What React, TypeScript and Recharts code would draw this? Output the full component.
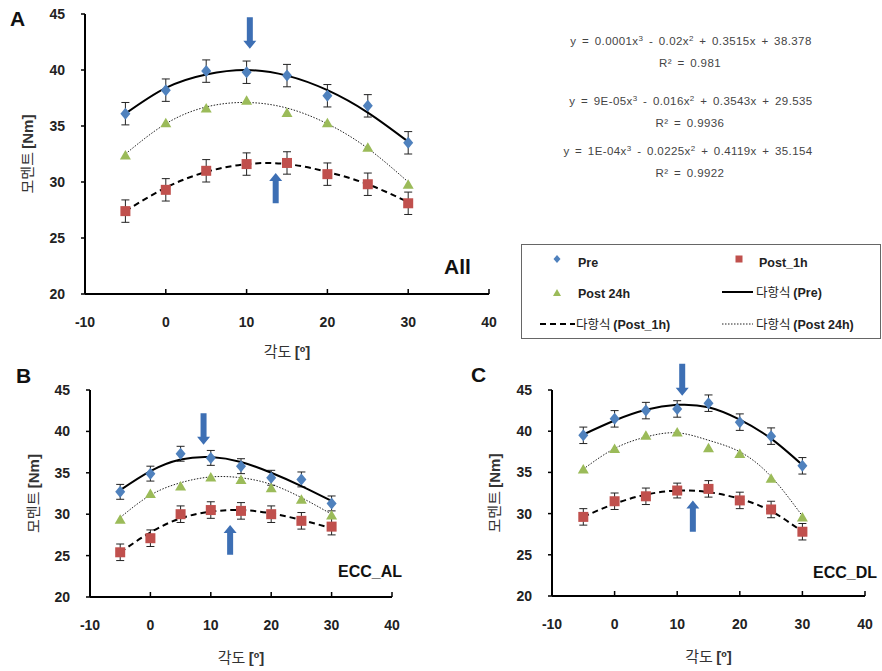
import React from 'react'
import { ComposedChart, Line, XAxis, YAxis, ErrorBar, ReferenceLine, Label } from 'recharts'

const angles = [-5, 0, 5, 10, 15, 20, 25, 30]
const xTicks = [-10, 0, 10, 20, 30, 40]
const yTicks = [20, 25, 30, 35, 40, 45]

// A: All
const preA = [36.1, 38.2, 39.9, 39.8, 39.5, 37.7, 36.8, 33.5]
const preErrA = [1.0, 1.0, 1.0, 1.0, 1.0, 1.0, 1.0, 1.0]
const post1A = [27.4, 29.3, 31.0, 31.6, 31.7, 30.7, 29.8, 28.1]
const post1ErrA = [1.0, 1.0, 1.0, 1.0, 1.0, 1.0, 1.0, 1.0]
const post24A = [32.4, 35.3, 36.6, 37.3, 36.2, 35.3, 33.1, 29.8]
const preFitA = [36.1, 38.4, 39.6, 40.0, 39.5, 38.2, 36.2, 33.6]
const post1FitA = [27.4, 29.5, 30.9, 31.6, 31.6, 30.9, 29.8, 28.2]
const post24FitA = [32.5, 35.2, 36.7, 37.1, 36.6, 35.2, 33.0, 30.0]

// B: ECC_AL
const preB = [32.7, 34.9, 37.3, 36.8, 35.8, 34.4, 34.2, 31.3]
const preErrB = [0.9, 0.9, 0.9, 0.9, 0.9, 0.9, 0.9, 0.9]
const post1B = [25.4, 27.1, 30.0, 30.5, 30.4, 30.0, 29.2, 28.5]
const post1ErrB = [1.0, 1.0, 1.0, 1.0, 1.0, 1.0, 1.0, 1.0]
const post24B = [29.4, 32.5, 33.4, 34.5, 34.2, 33.2, 31.8, 29.9]
const preFitB = [32.9, 35.2, 36.6, 36.9, 36.3, 35.0, 33.4, 31.6]
const post1FitB = [25.4, 27.8, 29.5, 30.3, 30.5, 30.1, 29.3, 28.3]
const post24FitB = [29.6, 32.3, 33.8, 34.5, 34.4, 33.6, 32.0, 30.0]

// C: ECC_DL
const preC = [39.5, 41.5, 42.5, 42.7, 43.4, 41.1, 39.4, 35.8]
const preErrC = [1.0, 1.0, 1.0, 1.0, 1.0, 1.0, 1.0, 1.0]
const post1C = [29.6, 31.5, 32.1, 32.8, 33.0, 31.6, 30.5, 27.8]
const post1ErrC = [1.0, 1.0, 1.0, 0.9, 1.0, 1.0, 1.0, 1.0]
const post24C = [35.4, 37.9, 39.5, 39.9, 38.0, 37.3, 34.3, 29.6]
const preFitC = [39.6, 41.3, 42.6, 43.2, 42.9, 41.4, 39.1, 35.9]
const post1FitC = [29.6, 31.2, 32.3, 32.8, 32.6, 31.8, 30.3, 27.8]
const post24FitC = [35.4, 37.9, 39.3, 39.8, 38.9, 37.5, 34.5, 29.7]

// arrows: x, tail, tip
const arrowsA = [{ x: 10.4, from: 44.7, to: 41.9 }, { x: 13.6, from: 28.1, to: 30.8 }]
const arrowsB = [{ x: 8.8, from: 42.2, to: 38.4 }, { x: 13.2, from: 25.1, to: 28.7 }]
const arrowsC = [{ x: 10.8, from: 48.2, to: 44.3 }, { x: 12.5, from: 27.8, to: 31.6 }]

const FONT = '"Liberation Sans", Arial, "Noto Sans CJK KR", sans-serif'
const KR = '"Noto Sans CJK KR", "Liberation Sans", sans-serif'
const BLUE = '#4f81bd'
const RED = '#c0504d'
const GREEN = '#9bbb59'
const ARROW = '#3d6fb4'

const rows = (pre: number[], preErr: number[], post1: number[], post1Err: number[], post24: number[],
  preFit: number[], post1Fit: number[], post24Fit: number[]) =>
  angles.map((x, i) => ({
    x, pre: pre[i], preErr: preErr[i], post1: post1[i], post1Err: post1Err[i], post24: post24[i],
    preFit: preFit[i], post1Fit: post1Fit[i], post24Fit: post24Fit[i],
  }))

const diamond = (p: any) => (
  <path key={`d${p.index}`} d={`M${p.cx},${p.cy - 6}L${p.cx + 5},${p.cy}L${p.cx},${p.cy + 6}L${p.cx - 5},${p.cy}Z`} fill={BLUE} />
)
const square = (p: any) => (
  <rect key={`s${p.index}`} x={p.cx - 5} y={p.cy - 5} width={10} height={10} fill={RED} />
)
const triangle = (p: any) => (
  <path key={`t${p.index}`} d={`M${p.cx},${p.cy - 5}L${p.cx + 5.5},${p.cy + 4.5}L${p.cx - 5.5},${p.cy + 4.5}Z`} fill={GREEN} />
)

const Arrow = (p: any) => {
  const { x1, y1, x2, y2 } = p
  const dir = y2 > y1 ? 1 : -1
  const hy = y2 - dir * 8
  return (
    <path
      d={`M${x1 - 3},${y1}L${x1 + 3},${y1}L${x1 + 3},${hy}L${x1 + 6.5},${hy}L${x2},${y2}L${x1 - 6.5},${hy}L${x1 - 3},${hy}Z`}
      fill={ARROW}
    />
  )
}

const XTick = (p: any) => {
  const { x, y, payload } = p
  return (
    <g>
      <line x1={x} y1={y} x2={x} y2={y - 5} stroke="#000" strokeWidth={1.5} />
      <text x={x} y={y + 33} textAnchor="middle" fontSize={14} fontWeight="bold" fill="#222" fontFamily={FONT}>
        {payload.value}
      </text>
    </g>
  )
}

const xLabel = (dy: number) => (p: any) => {
  const vb = p.viewBox || { x: 0, y: 0, width: 0, height: 0 }
  return (
    <text x={vb.x + vb.width / 2} y={vb.y + dy} textAnchor="middle" fontSize={15} fill="#333">
      <tspan fontFamily={KR}>각도 </tspan>
      <tspan fontFamily={FONT} fontWeight="bold">[º]</tspan>
    </text>
  )
}

const yLabel = (cx: number) => (p: any) => {
  const vb = p.viewBox || { x: 0, y: 0, width: 0, height: 0 }
  const cy = vb.y + vb.height / 2
  return (
    <text x={cx} y={cy} transform={`rotate(-90, ${cx}, ${cy})`} dy={5} textAnchor="middle" fontSize={15} fill="#333">
      <tspan fontFamily={KR}>모멘트 </tspan>
      <tspan fontFamily={FONT} fontWeight="bold">[Nm]</tspan>
    </text>
  )
}

type PanelProps = {
  data: ReturnType<typeof rows>
  arrows: { x: number; from: number; to: number }[]
  width: number
  height: number
  margin: { top: number; right: number; bottom: number; left: number }
  yWidth: number
  xHeight: number
  xLabelDy: number
  yLabelX: number
}

const Panel = ({ data, arrows, width, height, margin, yWidth, xHeight, xLabelDy, yLabelX }: PanelProps) => (
  <ComposedChart width={width} height={height} data={data} margin={margin}>
    <XAxis
      dataKey="x" type="number" domain={[-10, 40]} ticks={xTicks}
      axisLine={{ stroke: '#000', strokeWidth: 2 }} tickLine={false} tickSize={0} tickMargin={0}
      height={xHeight} tick={<XTick />}
    >
      <Label content={xLabel(xLabelDy)} />
    </XAxis>
    <YAxis
      type="number" domain={[20, 45]} ticks={yTicks} width={yWidth}
      axisLine={{ stroke: '#000', strokeWidth: 2 }} tickLine={{ stroke: '#000', strokeWidth: 1.5 }}
      tickSize={4} tickMargin={16}
      tick={{ fontSize: 14, fontWeight: 'bold', fill: '#222', fontFamily: FONT }}
    >
      <Label content={yLabel(yLabelX)} />
    </YAxis>
    <Line dataKey="pre" stroke="none" dot={diamond} activeDot={false} isAnimationActive={false}>
      <ErrorBar dataKey="preErr" width={4} stroke="#222" strokeWidth={1} direction="y" />
    </Line>
    <Line dataKey="post1" stroke="none" dot={square} activeDot={false} isAnimationActive={false}>
      <ErrorBar dataKey="post1Err" width={4} stroke="#222" strokeWidth={1} direction="y" />
    </Line>
    <Line dataKey="post24" stroke="none" dot={triangle} activeDot={false} isAnimationActive={false} />
    <Line dataKey="preFit" type="natural" stroke="#000" strokeWidth={2} dot={false} activeDot={false} isAnimationActive={false} />
    <Line dataKey="post1Fit" type="natural" stroke="#000" strokeWidth={2} strokeDasharray="6 4" dot={false} activeDot={false} isAnimationActive={false} />
    <Line dataKey="post24Fit" type="natural" stroke="#222" strokeWidth={1} strokeDasharray="1.5 1.5" dot={false} activeDot={false} isAnimationActive={false} />
    {arrows.map((a, i) => (
      <ReferenceLine key={i} segment={[{ x: a.x, y: a.from }, { x: a.x, y: a.to }]} ifOverflow="visible" shape={Arrow} />
    ))}
  </ComposedChart>
)

const sup = (s: string) => <tspan dy={-4} fontSize={8}>{s}</tspan>
const base = (s: string) => <tspan dy={4}>{s}</tspan>

export default function App() {
  const dataA = rows(preA, preErrA, post1A, post1ErrA, post24A, preFitA, post1FitA, post24FitA)
  const dataB = rows(preB, preErrB, post1B, post1ErrB, post24B, preFitB, post1FitB, post24FitB)
  const dataC = rows(preC, preErrC, post1C, post1ErrC, post24C, preFitC, post1FitC, post24FitC)

  return (
    <div style={{ position: 'absolute', left: 0, top: 0, width: 882, height: 671, background: '#fff', overflow: 'hidden' }}>
      <div style={{ position: 'absolute', left: 0, top: 0 }}>
        <Panel data={dataA} arrows={arrowsA} width={882} height={372}
          margin={{ top: 14, right: 393, bottom: 18, left: 0 }} yWidth={85} xHeight={60} xLabelDy={63} yLabelX={28} />
      </div>
      <div style={{ position: 'absolute', left: 0, top: 360 }}>
        <Panel data={dataB} arrows={arrowsB} width={440} height={311}
          margin={{ top: 30, right: 48, bottom: 0, left: 0 }} yWidth={90} xHeight={74} xLabelDy={66} yLabelX={34} />
      </div>
      <div style={{ position: 'absolute', left: 460, top: 360 }}>
        <Panel data={dataC} arrows={arrowsC} width={422} height={311}
          margin={{ top: 30, right: 17, bottom: 0, left: 0 }} yWidth={92} xHeight={75} xLabelDy={66} yLabelX={35} />
      </div>

      <svg width={882} height={671} style={{ position: 'absolute', left: 0, top: 0, pointerEvents: 'none' }}>
        <g fontFamily={FONT} fontWeight="bold" fill="#111">
          <text x={10} y={26} fontSize={21}>A</text>
          <text x={16} y={383} fontSize={21}>B</text>
          <text x={471} y={382} fontSize={21}>C</text>
          <text x={444} y={274} fontSize={21}>All</text>
          <text x={338} y={577} fontSize={16}>ECC_AL</text>
          <text x={813} y={578} fontSize={16}>ECC_DL</text>
        </g>

        <g fontFamily={FONT} fontSize={11.5} fill="#444" textAnchor="middle" letterSpacing={0.4} wordSpacing={2}>
          <text x={691} y={45}>y = 0.0001x{sup('3')}{base(' - 0.02x')}{sup('2')}{base(' + 0.3515x + 38.378')}</text>
          <text x={690} y={67}>R² = 0.981</text>
          <text x={691} y={105}>y = 9E-05x{sup('3')}{base(' - 0.016x')}{sup('2')}{base(' + 0.3543x + 29.535')}</text>
          <text x={690} y={127}>R² = 0.9936</text>
          <text x={688} y={155}>y = 1E-04x{sup('3')}{base(' - 0.0225x')}{sup('2')}{base(' + 0.4119x + 35.154')}</text>
          <text x={690} y={177}>R² = 0.9922</text>
        </g>

        <rect x={521.5} y={244.5} width={359} height={94} fill="#fff" stroke="#666" strokeWidth={1} />
        <path d="M557,255L560.5,259L557,263L553.5,259Z" fill={BLUE} />
        <rect x={735.5} y={255.5} width={7} height={7} fill={RED} />
        <path d="M557,289L561,296L553,296Z" fill={GREEN} />
        <line x1={722} y1={292} x2={753} y2={292} stroke="#000" strokeWidth={2} />
        <line x1={540} y1={324} x2={575} y2={324} stroke="#000" strokeWidth={2} strokeDasharray="6 4" />
        <line x1={722} y1={324} x2={753} y2={324} stroke="#222" strokeWidth={1} strokeDasharray="1.5 1.5" />
        <g fontFamily={FONT} fontSize={12.5} fill="#222">
          <text x={578} y={267} fontWeight="bold">Pre</text>
          <text x={759} y={267} fontWeight="bold">Post_1h</text>
          <text x={578} y={298} fontWeight="bold">Post 24h</text>
          <text x={756} y={297}><tspan fontFamily={KR}>다항식 </tspan><tspan fontWeight="bold">(Pre)</tspan></text>
          <text x={576} y={329}><tspan fontFamily={KR}>다항식 </tspan><tspan fontWeight="bold">(Post_1h)</tspan></text>
          <text x={756} y={329}><tspan fontFamily={KR}>다항식 </tspan><tspan fontWeight="bold">(Post 24h)</tspan></text>
        </g>
      </svg>
    </div>
  )
}
